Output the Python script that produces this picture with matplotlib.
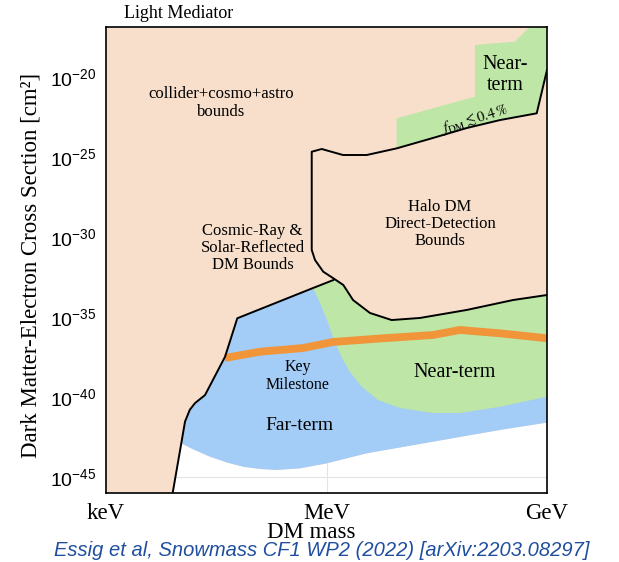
import numpy as np
import matplotlib
matplotlib.use('Agg')
import matplotlib.pyplot as plt
from matplotlib.patches import Polygon

# ---------------- data (log10 mass [eV], log10 cross section [cm^2]) ----------------
# cosmic-ray & solar-reflected bound (black line)
cr_logm = [3.907, 4.024, 4.075, 4.14, 4.211, 4.347, 4.62, 4.786, 5.816, 6.093]
cr_logs = [-46.0, -42.9, -41.54, -40.8, -40.38, -39.88, -37.48, -35.08, -33.19, -32.69]

# halo DM direct-detection bound (closed outline)
halo_top_logm = [5.799, 5.935, 6.224, 6.547, 6.955, 7.449, 7.907, 8.361, 8.86, 9.0]
halo_top_logs = [-24.67, -24.5, -24.875, -24.875, -24.46, -23.81, -23.19, -22.69, -22.27, -19.56]
halo_bot_logm = [9.0, 8.537, 7.907, 7.272, 6.887, 6.592, 6.361, 6.229, 6.093, 5.956, 5.844, 5.799]
halo_bot_logs = [-33.625, -33.94, -34.56, -35.06, -35.19, -34.75, -33.94, -33.0, -32.58, -32.17, -31.44, -30.81]

# near-term region for f_DM <= 0.4 %
fdm_logm = [6.955, 6.955, 8.020, 8.020, 8.565, 8.76, 9.0, 9.0, 8.86, 8.361, 7.907, 7.449, 6.955]
fdm_logs = [-24.46, -22.58, -21.23, -18.0, -17.79, -16.875, -16.875, -19.56, -22.27, -22.69, -23.19, -23.81, -24.46]

# lower edge of far-term region
blue_bot_logm = [4.024, 4.20, 4.415, 4.65, 4.868, 5.1, 5.322, 5.639, 6.0, 6.547, 7.453, 8.361, 9.0]
blue_bot_logs = [-42.9, -43.3, -43.73, -44.1, -44.36, -44.5, -44.56, -44.46, -44.15, -43.52, -42.79, -42.06, -41.6]

# lower edge of near-term region
green_bot_logm = [5.816, 5.912, 6.007, 6.102, 6.211, 6.320, 6.483, 6.701, 7.0, 7.449, 7.816, 8.361, 9.0]
green_bot_logs = [-33.19, -34.125, -35.19, -36.44, -37.56, -38.44, -39.375, -40.19, -40.69, -41.0, -41.0, -40.61, -39.98]

# key milestone
km_logm = [4.619, 5.095, 5.680, 6.088, 6.769, 7.449, 7.816, 8.361, 9.0]
km_logs = [-37.56, -37.17, -36.94, -36.56, -36.33, -36.125, -35.81, -36.02, -36.33]

xtick_logm = [3, 6, 9]
xtick_labels = ['keV', 'MeV', 'GeV']
ytick_logs = [-45, -40, -35, -30, -25, -20]
xlim_log = (3, 9)
ylim_log = (-46, -16.875)

PEACH = '#f8dfcb'
BLUE = '#a3cdf6'
GREEN = '#bde6a7'
ORANGE = '#f0953a'
CITE = '#1f4e9f'

plt.rcParams['mathtext.fontset'] = 'custom'
plt.rcParams['mathtext.rm'] = 'Liberation Sans'
plt.rcParams['mathtext.it'] = 'Liberation Sans:italic'

SERIF = 'Liberation Serif'

def P(lm, ls):
    return np.column_stack([10.0 ** np.asarray(lm), 10.0 ** np.asarray(ls)])

fig = plt.figure(figsize=(6.19, 5.62), dpi=100)
ax = fig.add_axes([106/619, 1-493/562, 441/619, 466/562])
ax.set_xscale('log')
ax.set_yscale('log')
ax.set_xlim(10.0**xlim_log[0], 10.0**xlim_log[1])
ax.set_ylim(10.0**ylim_log[0], 10.0**ylim_log[1])
ax.set_facecolor(PEACH)

# white region
white = np.vstack([P(cr_logm[:2], cr_logs[:2]), P(blue_bot_logm, blue_bot_logs),
                   P([xlim_log[1]], [ylim_log[0]])])
wpoly = Polygon(white, closed=True, facecolor='white', edgecolor='none', zorder=1)
ax.add_patch(wpoly)

# far-term (blue)
cr_i0 = 1
blue = np.vstack([P(cr_logm[cr_i0:], cr_logs[cr_i0:]),
                  P(halo_bot_logm[::-1][4:], halo_bot_logs[::-1][4:]),
                  P(blue_bot_logm[::-1], blue_bot_logs[::-1])])
ax.add_patch(Polygon(blue, closed=True, facecolor=BLUE, edgecolor='none', zorder=2))

# near-term (green)
green = np.vstack([P(cr_logm[-2:], cr_logs[-2:]),
                   P(halo_bot_logm[::-1][4:], halo_bot_logs[::-1][4:]),
                   P(green_bot_logm[::-1], green_bot_logs[::-1])])
ax.add_patch(Polygon(green, closed=True, facecolor=GREEN, edgecolor='none', zorder=2.1))

# halo DM bound
halo = np.vstack([P(halo_bot_logm, halo_bot_logs), P(halo_top_logm, halo_top_logs)])
ax.add_patch(Polygon(halo, closed=True, facecolor=PEACH, edgecolor='none', zorder=2.2))
ax.plot(halo[:, 0], halo[:, 1], color='black', lw=1.4, zorder=5, solid_joinstyle='round')

# f_DM near-term (green)
ax.add_patch(Polygon(P(fdm_logm, fdm_logs), closed=True, facecolor=GREEN,
                     edgecolor='none', zorder=2.3))

# key milestone
ax.plot(10.0**np.array(km_logm), 10.0**np.array(km_logs), color=ORANGE, lw=5.6,
        solid_capstyle='butt', zorder=4)

# cosmic-ray line
ax.plot(10.0**np.array(cr_logm), 10.0**np.array(cr_logs), color='black', lw=1.4, zorder=5,
        solid_joinstyle='round')

# ticks
ax.set_xticks([10.0**v for v in xtick_logm])
ax.set_xticklabels(xtick_labels, family=SERIF, fontsize=16.5)
ax.set_yticks([10.0**v for v in ytick_logs])
ax.set_yticklabels([r'$\mathregular{10^{%d}}$' % v for v in ytick_logs],
                   family='Liberation Sans', fontsize=14)
ax.minorticks_off()
ax.tick_params(axis='both', length=0)
ax.tick_params(axis='y', pad=7)
ax.tick_params(axis='x', pad=7)
ax.grid(True, color='#e4e4e4', lw=0.8, zorder=1.5)
for gl in ax.get_xgridlines() + ax.get_ygridlines():
    gl.set_clip_path(wpoly)
    gl.set_zorder(1.5)
for s in ax.spines.values():
    s.set_linewidth(1.2)
    s.set_zorder(6)

# region labels
def T(lm, ls, s, size, **kw):
    ax.text(10.0**lm, 10.0**ls, s, ha='center', va='center', family=SERIF,
            fontsize=size, zorder=7, linespacing=1.1, **kw)

T(4.565, -21.63, 'collider+cosmo+astro\nbounds', 12)
T(4.993, -30.69, 'Cosmic-Ray &\nSolar-Reflected\nDM Bounds', 12)
T(7.544, -29.19, 'Halo DM\nDirect-Detection\nBounds', 12)
T(8.429, -19.875, 'Near-\nterm', 14.5)
T(5.612, -38.69, 'Key\nMilestone', 11.5)
T(5.626, -41.75, 'Far-term', 14)
T(7.748, -38.44, 'Near-term', 14.5)
ax.text(10.0**8.02, 10.0**-22.65, r'$f_{\rm DM} \lesssim 0.4\,\%$', ha='center', va='center',
        fontsize=10.5, rotation=17, math_fontfamily='stix', zorder=7)

# axis titles
fig.text(179/619, 1-13/562, 'Light Mediator', ha='center', va='center', family=SERIF, fontsize=13)
fig.text(31/619, 1-265/562, 'Dark Matter-Electron Cross Section [cm²]', ha='center', va='center',
         rotation=90, family=SERIF, fontsize=16.5)
fig.text(311/619, 1-533/562, 'DM mass', ha='center', va='center', family=SERIF, fontsize=16.5)
fig.text(322/619, 1-551/562, 'Essig et al, Snowmass CF1 WP2 (2022) [arXiv:2203.08297]',
         ha='center', va='center', family='Liberation Sans', style='italic', fontsize=14.5,
         color=CITE, zorder=10)

fig.savefig('out.png', dpi=100)
